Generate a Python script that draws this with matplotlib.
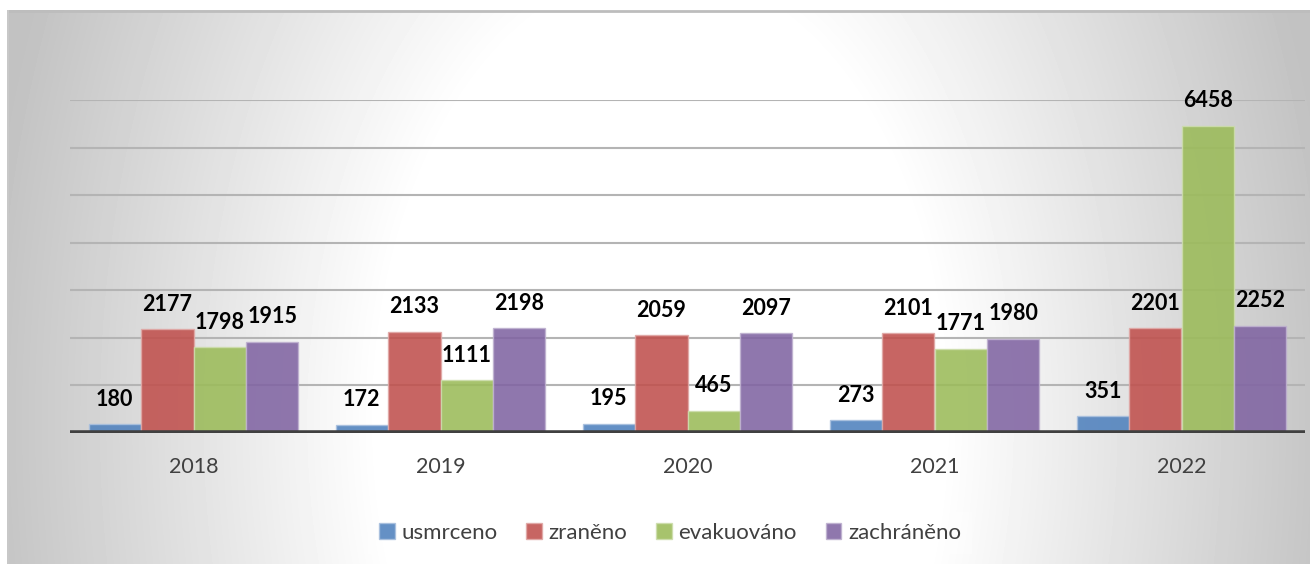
import numpy as np
import matplotlib.pyplot as plt
from matplotlib.patches import Patch

years = ["2018", "2019", "2020", "2021", "2022"]
series = ["usmrceno", "zraněno", "evakuováno", "zachráněno"]
usmrceno = [180, 172, 195, 273, 351]
zraneno = [2177, 2133, 2059, 2101, 2201]
evakuovano = [1798, 1111, 465, 1771, 6458]
zachraneno = [1915, 2198, 2097, 1980, 2252]

values = [usmrceno, zraneno, evakuovano, zachraneno]
colors = ["#4F81BD", "#C0504D", "#9BBB59", "#8064A2"]
edges = ["#A9C0DE", "#E0A8A6", "#CDDDAC", "#BFB1D0"]

W, H = 1310, 564
fig = plt.figure(figsize=(W / 100, H / 100), dpi=100)
fig.patch.set_facecolor("white")

# radial grey background of the chart area
bx0, by0 = 7, 10
bg = fig.add_axes([bx0 / W, 0, 1 - bx0 / W, 1 - by0 / H], zorder=-10)
xx, yy = np.meshgrid(np.arange(bx0, W), np.arange(by0, H))
d = np.sqrt(((xx - 660) / 282.0) ** 2 + ((yy - 420) / 443.0) ** 2)
shade = np.clip(1 - (d - 1) * 0.17, 0.76, 1.0)
bg.imshow(shade, cmap="gray", vmin=0, vmax=1, aspect="auto", interpolation="bilinear")
bg.axhline(0, color="#bdbdbd", lw=2)
bg.axvline(0, color="#c8c8c8", lw=1.5)
bg.set_axis_off()

left, right = 70, 1305
y0, y7000 = 433, 100
ax = fig.add_axes([left / W, 1 - y0 / H, (right - left) / W, (y0 - y7000) / H])
ax.set_facecolor("none")

label_font = ["Liberation Sans Narrow", "Lato"]

x = np.arange(len(years))
bw = 0.2125
for i, (name, vals) in enumerate(zip(series, values)):
    pos = x + (i - 1.5) * bw
    ax.bar(pos, vals, bw, color=colors[i], alpha=0.88, edgecolor=edges[i],
           linewidth=1, label=name, zorder=3)
    for px, v in zip(pos, vals):
        ax.annotate(str(v), (px, v), xytext=(0, 18), textcoords="offset points",
                    ha="center", va="center", fontsize=15.5, fontweight="bold",
                    family=label_font, color="black", zorder=5, annotation_clip=False)

ax.set_xlim(-0.5, len(years) - 0.5)
ax.set_ylim(0, 7000)
ax.set_yticks(range(1000, 7001, 1000))
ax.yaxis.grid(True, color="#b4b4b4", linewidth=1.5, zorder=0)
ax.axhline(0, color="#404040", linewidth=4, zorder=4)
ax.tick_params(left=False, labelleft=False, bottom=False)
ax.set_xticks(x)
ax.set_xticklabels(years, fontsize=15.5, family="Lato", color="#404040")
ax.tick_params(axis="x", pad=14)
for s in ax.spines.values():
    s.set_visible(False)

handles = [Patch(facecolor=c, edgecolor=e, alpha=0.88) for c, e in zip(colors, edges)]
leg = fig.legend(handles, series, loc="center", bbox_to_anchor=(670 / W, 1 - 533 / H),
                 ncol=4, frameon=True, fancybox=False,
                 prop={"family": "Lato", "size": 16},
                 handlelength=0.7, handleheight=0.7, handletextpad=0.3,
                 columnspacing=1.3, borderpad=0.5)
leg.get_frame().set_facecolor("white")
leg.get_frame().set_alpha(0.35)
leg.get_frame().set_edgecolor("none")
for t in leg.get_texts():
    t.set_color("#404040")

fig.savefig("out.png", dpi=100)
